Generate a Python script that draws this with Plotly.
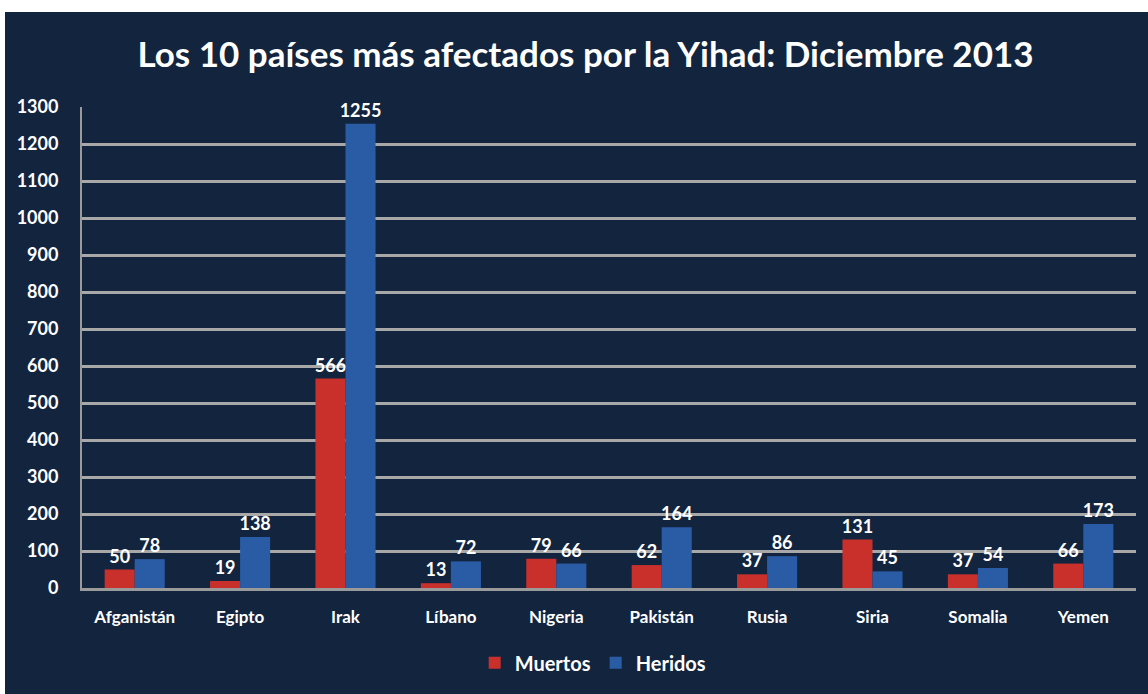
import plotly.graph_objects as go

countries = ["Afganistán", "Egipto", "Irak", "Líbano", "Nigeria", "Pakistán", "Rusia", "Siria", "Somalia", "Yemen"]
muertos = [50, 19, 566, 13, 79, 62, 37, 131, 37, 66]
heridos = [78, 138, 1255, 72, 66, 164, 86, 45, 54, 173]
y_ticks = list(range(0, 1301, 100))

NAVY = "#13243f"
FONT = "Lato"

fig = go.Figure()
fig.add_trace(go.Bar(
    x=countries, y=muertos, name="Muertos",
    marker=dict(color="#c9302c", line=dict(width=0)),
    text=muertos, textposition="outside", cliponaxis=False,
    constraintext="none",
    textfont=dict(color="white", size=18, family=FONT, weight="bold"),
))
fig.add_trace(go.Bar(
    x=countries, y=heridos, name="Heridos",
    marker=dict(color="#2a5ca6", line=dict(width=0)),
    text=heridos, textposition="outside", cliponaxis=False,
    constraintext="none",
    textfont=dict(color="white", size=18, family=FONT, weight="bold"),
))

# navy panel behind everything (white strip at top and left)
fig.add_shape(type="rect", xref="paper", yref="paper",
              x0=(5 - 82) / 1054, x1=(1160 - 82) / 1054,
              y0=(588 - 700) / 481, y1=(588 - 12) / 481,
              fillcolor=NAVY, line=dict(width=0), layer="below")

fig.update_layout(
    width=1148, height=694,
    paper_bgcolor="white",
    plot_bgcolor="#404040",
    barmode="group", bargap=0.43, bargroupgap=0.0,
    margin=dict(l=82, r=12, t=107, b=106),
    title=dict(text="Los 10 países más afectados por la Yihad: Diciembre 2013",
               x=0.51, xanchor="center", y=0.921, yanchor="middle",
               font=dict(family=FONT, size=35, color="white", weight="bold")),
    font=dict(family=FONT, color="white"),
    showlegend=True,
    legend=dict(orientation="h", x=0.485, xanchor="center", y=-0.115, yanchor="top",
                font=dict(family=FONT, size=20, color="white", weight="bold"),
                bgcolor="rgba(0,0,0,0)", traceorder="normal", itemwidth=30),
)
fig.update_xaxes(
    tickfont=dict(family=FONT, size=17, color="white", weight="bold"),
    showline=True, linecolor="#9a9a9a", linewidth=3,
    ticks="", ticklabelstandoff=12,
)
fig.update_yaxes(
    range=[0, 1300], tickvals=y_ticks,
    tickfont=dict(family=FONT, size=18, color="white", weight="bold"),
    showgrid=True, gridcolor="#a8a8a8", gridwidth=2.5,
    showline=True, linecolor="#9a9a9a", linewidth=2,
    zeroline=False, ticks="", ticklabelstandoff=18,
)

fig.write_html("out.html", config={"displayModeBar": False},
               post_script="document.body.style.margin='0';document.body.style.overflow='hidden';")
